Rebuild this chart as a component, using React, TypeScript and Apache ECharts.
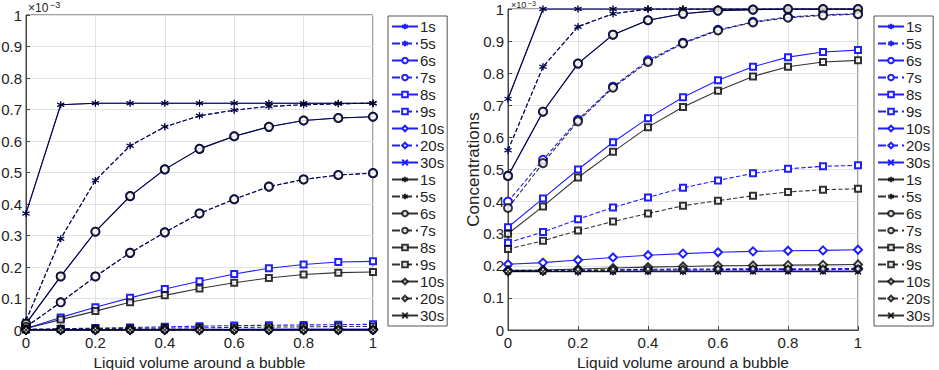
import React, { useEffect, useRef } from "react";
import * as echarts from "echarts";

const xs = [0, 0.1, 0.2, 0.3, 0.4, 0.5, 0.6, 0.7, 0.8, 0.9, 1];
const seriesNames = ["1s", "5s", "6s", "7s", "8s", "9s", "10s", "20s", "30s"];

// Left panel (x 1e-3)
const leftBlue = [
  [0.37, 0.715, 0.72, 0.72, 0.72, 0.72, 0.72, 0.72, 0.72, 0.72, 0.72],
  [0.03, 0.29, 0.475, 0.585, 0.645, 0.68, 0.698, 0.71, 0.715, 0.718, 0.72],
  [0.02, 0.17, 0.312, 0.425, 0.51, 0.575, 0.615, 0.645, 0.665, 0.673, 0.677],
  [0.01, 0.088, 0.17, 0.245, 0.31, 0.37, 0.415, 0.455, 0.478, 0.492, 0.498],
  [0.005, 0.04, 0.072, 0.102, 0.13, 0.155, 0.178, 0.196, 0.208, 0.216, 0.218],
  [0.002, 0.004, 0.006, 0.008, 0.01, 0.012, 0.014, 0.015, 0.016, 0.017, 0.018],
  [0.001, 0.001, 0.001, 0.002, 0.002, 0.002, 0.002, 0.003, 0.003, 0.003, 0.003],
  [0.001, 0.001, 0.001, 0.001, 0.001, 0.001, 0.001, 0.001, 0.001, 0.001, 0.001],
  [0, 0, 0, 0, 0, 0, 0, 0, 0, 0, 0],
];
const leftBlack = [
  [0.37, 0.715, 0.72, 0.72, 0.72, 0.72, 0.72, 0.72, 0.72, 0.72, 0.72],
  [0.03, 0.29, 0.475, 0.585, 0.645, 0.68, 0.698, 0.71, 0.715, 0.718, 0.72],
  [0.02, 0.17, 0.312, 0.425, 0.51, 0.575, 0.615, 0.645, 0.665, 0.673, 0.677],
  [0.01, 0.088, 0.17, 0.245, 0.31, 0.37, 0.415, 0.455, 0.478, 0.492, 0.498],
  [0.005, 0.033, 0.06, 0.088, 0.11, 0.132, 0.15, 0.165, 0.176, 0.182, 0.184],
  [0.002, 0.003, 0.004, 0.005, 0.006, 0.007, 0.008, 0.009, 0.01, 0.011, 0.011],
  [0.001, 0.001, 0.001, 0.001, 0.001, 0.001, 0.001, 0.001, 0.001, 0.001, 0.001],
  [0, 0, 0, 0, 0, 0, 0, 0, 0, 0, 0],
  [0, 0, 0, 0, 0, 0, 0, 0, 0, 0, 0],
];

// Right panel (x 1e-3)
const rightBlue = [
  [0.72, 1, 1, 1, 1, 1, 1, 1, 1, 1, 1],
  [0.56, 0.82, 0.945, 0.985, 1, 1, 1, 1, 1, 1, 1],
  [0.48, 0.68, 0.83, 0.92, 0.965, 0.985, 0.995, 0.998, 1, 1, 1],
  [0.4, 0.53, 0.655, 0.758, 0.84, 0.895, 0.935, 0.96, 0.975, 0.982, 0.985],
  [0.32, 0.41, 0.5, 0.585, 0.66, 0.725, 0.778, 0.82, 0.85, 0.866, 0.872],
  [0.272, 0.305, 0.345, 0.382, 0.413, 0.443, 0.466, 0.488, 0.502, 0.51, 0.513],
  [0.205, 0.21, 0.218, 0.226, 0.233, 0.238, 0.242, 0.245, 0.247, 0.248, 0.25],
  [0.186, 0.186, 0.187, 0.188, 0.189, 0.19, 0.19, 0.191, 0.191, 0.191, 0.192],
  [0.183, 0.183, 0.183, 0.183, 0.184, 0.184, 0.184, 0.184, 0.184, 0.184, 0.184],
];
const rightBlack = [
  [0.72, 1, 1, 1, 1, 1, 1, 1, 1, 1, 1],
  [0.56, 0.82, 0.945, 0.985, 1, 1, 1, 1, 1, 1, 1],
  [0.48, 0.68, 0.83, 0.92, 0.965, 0.985, 0.995, 0.998, 1, 1, 1],
  [0.38, 0.52, 0.65, 0.755, 0.835, 0.893, 0.933, 0.958, 0.973, 0.98, 0.984],
  [0.3, 0.385, 0.475, 0.555, 0.632, 0.695, 0.745, 0.79, 0.82, 0.835, 0.84],
  [0.252, 0.278, 0.31, 0.338, 0.363, 0.387, 0.403, 0.418, 0.43, 0.437, 0.44],
  [0.185, 0.187, 0.19, 0.193, 0.196, 0.198, 0.2, 0.201, 0.202, 0.203, 0.204],
  [0.183, 0.184, 0.185, 0.186, 0.187, 0.187, 0.188, 0.188, 0.188, 0.188, 0.189],
  [0.182, 0.182, 0.182, 0.182, 0.182, 0.182, 0.182, 0.182, 0.182, 0.182, 0.182],
];

const ASTERISK = "path://M5,0L5,10M0.67,2.5L9.33,7.5M0.67,7.5L9.33,2.5";
const CROSS = "path://M0,0L10,10M0,10L10,0";
const symbols = [ASTERISK, ASTERISK, "emptyCircle", "emptyCircle", "emptyRect", "emptyRect", "emptyDiamond", "emptyDiamond", CROSS];
const symbolSizes = [7, 7, 8, 8, 6, 6, 8, 8, 6];
const dashes = ["solid", "dashed", "solid", "dashed", "solid", "dashed", "solid", "dashed", "solid"];

const BLUE = "#1f1fff";
const BLACK = "#000000";
const FONT = "Liberation Sans";

function fmt(v: number) {
  const r = Math.round(v * 10) / 10;
  if (r === 0 || r === 1) return String(r);
  return r.toFixed(1);
}

export default function App() {
  const ref = useRef<HTMLDivElement>(null);
  useEffect(() => {
    if (!ref.current) return;
    const chart = echarts.init(ref.current, undefined, { renderer: "svg" });

    const series: any[] = [];
    const legendData: string[][] = [[], []];
    const panels = [
      [leftBlue, leftBlack],
      [rightBlue, rightBlack],
    ];
    panels.forEach((pair, p) => {
      pair.forEach((rows, c) => {
        const color = c === 0 ? BLUE : BLACK;
        const opacity = c === 0 ? 1 : 0.8;
        rows.forEach((vals, i) => {
          const name = `${p}|${c}|${seriesNames[i]}`;
          legendData[p].push(name);
          series.push({
            type: "line",
            name,
            xAxisIndex: p,
            yAxisIndex: p,
            data: xs.map((x, j) => [x, vals[j]]),
            symbol: symbols[i],
            symbolSize: symbolSizes[i],
            showAllSymbol: true,
            lineStyle: { color, width: 1.1, type: dashes[i], opacity },
            itemStyle: { color, borderColor: color, borderWidth: 1.1, opacity },
            z: 2 + c,
          });
        });
      });
    });

    const axisLabel = { fontFamily: FONT, fontSize: 15, color: "#222", formatter: fmt };
    const mkX = (gi: number) => ({
      type: "value",
      gridIndex: gi,
      min: 0,
      max: 1,
      interval: 0.2,
      axisLabel: { ...axisLabel, margin: 5 },
      axisLine: { show: true, lineStyle: { color: "#444" } },
      axisTick: { inside: true, length: 4, lineStyle: { color: "#444" } },
      splitLine: { show: true, lineStyle: { color: "#e2e2e2" } },
      name: "Liquid volume around a bubble",
      nameLocation: "middle",
      nameGap: 24,
      nameMoveOverlap: false,
      nameTextStyle: { fontFamily: FONT, fontSize: 15.5, color: "#222" },
    });
    const mkY = (gi: number, name: string) => ({
      type: "value",
      gridIndex: gi,
      min: 0,
      max: 1,
      interval: 0.1,
      axisLabel: { ...axisLabel, margin: 4 },
      axisLine: { show: true, lineStyle: { color: "#444" } },
      axisTick: { inside: true, length: 4, lineStyle: { color: "#444" } },
      splitLine: { show: true, lineStyle: { color: "#e2e2e2" } },
      name,
      nameLocation: "middle",
      nameGap: 26,
      nameMoveOverlap: false,
      nameTextStyle: { fontFamily: FONT, fontSize: 17, color: "#222" },
    });

    const mkLegend = (p: number, left: number) => ({
      orient: "vertical",
      left,
      top: 16,
      data: legendData[p],
      formatter: (n: string) => n.split("|")[2],
      itemWidth: 26,
      itemHeight: 7,
      itemGap: 2,
      padding: [3, 3, 3, 3],
      borderColor: "#555",
      borderWidth: 1,
      backgroundColor: "#fff",
      selectedMode: false,
      textStyle: { fontFamily: FONT, fontSize: 15, color: "#222", padding: [0, 0, 0, -3] },
    });

    const gridBase = { show: true, borderColor: "#444", borderWidth: 1, backgroundColor: "#fff", containLabel: false, outerBoundsMode: "none" };

    chart.setOption({
      animation: false,
      backgroundColor: "#fff",
      grid: [
        { ...gridBase, left: 26, right: 939 - 373, top: 15, bottom: 40 },
        { ...gridBase, left: 508, right: 939 - 858, top: 9, bottom: 40 },
      ],
      xAxis: [mkX(0), mkX(1)],
      yAxis: [mkY(0, ""), mkY(1, "Concentrations")],
      legend: [mkLegend(0, 388), mkLegend(1, 874)],
      graphic: [
        { type: "text", left: 28, top: 2, style: { text: "×10", fontFamily: FONT, fontSize: 12, fill: "#222" } },
        { type: "text", left: 50, top: 0, style: { text: "−3", fontFamily: FONT, fontSize: 9, fill: "#222" } },
        { type: "text", left: 511, top: 0, style: { text: "×10", fontFamily: FONT, fontSize: 9, fill: "#222" } },
        { type: "text", left: 528, top: 0, style: { text: "−3", fontFamily: FONT, fontSize: 7, fill: "#222" } },
      ],
      series,
    });
    return () => chart.dispose();
  }, []);
  return <div ref={ref} style={{ position: "absolute", left: 0, top: 0, width: 939, height: 370 }} />;
}
